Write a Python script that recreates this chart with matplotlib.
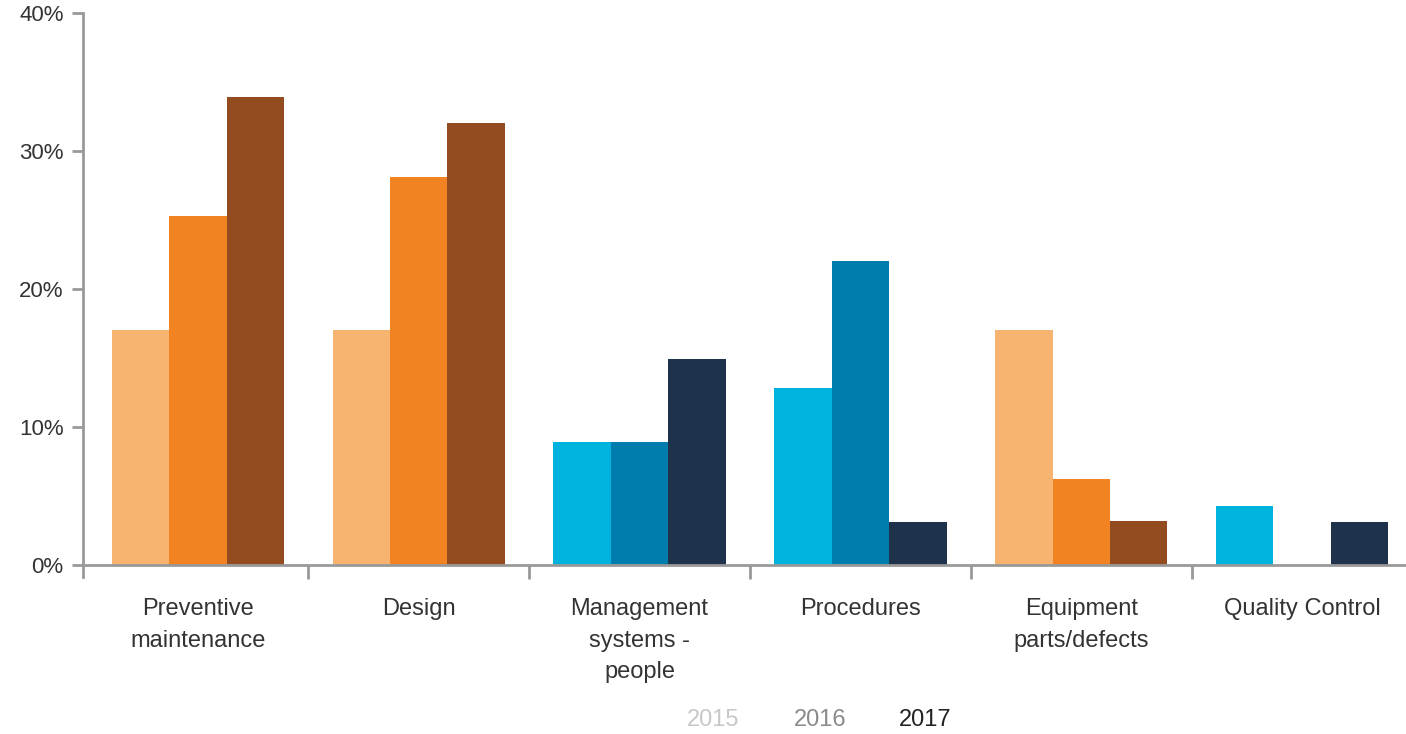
import numpy as np
import matplotlib.pyplot as plt

plt.rcParams['font.family'] = ['Liberation Sans', 'DejaVu Sans']

categories = ["Preventive\nmaintenance", "Design", "Management\nsystems -\npeople",
              "Procedures", "Equipment\nparts/defects", "Quality Control"]
years = ["2015", "2016", "2017"]
vals_2015 = [17.0, 17.0, 8.9, 12.8, 17.0, 4.3]
vals_2016 = [25.3, 28.1, 8.9, 22.0, 6.2, 0.0]
vals_2017 = [33.9, 32.0, 14.9, 3.1, 3.2, 3.1]

# two palettes: orange groups and blue groups
orange = ["#F7B370", "#F28322", "#924C1F"]
blue = ["#00B3DF", "#007DAD", "#1E324B"]
group_palette = [orange, orange, blue, blue, orange, blue]

fig = plt.figure(figsize=(14.06, 7.34), dpi=100)
ax = fig.add_axes([83 / 1406, 169 / 734, 1 - 83 / 1406, 552 / 734])

x = np.arange(len(categories))
w = 0.26
series = [vals_2015, vals_2016, vals_2017]
for i, vals in enumerate(series):
    cols = [pal[i] for pal in group_palette]
    ax.bar(x + (i - 1) * w, vals, width=w, color=cols, linewidth=0, zorder=2)

ax.set_xlim(-0.52, 5.47)
ax.set_ylim(0, 40)
ax.set_yticks([0, 10, 20, 30, 40])
ax.set_yticklabels([f"{v}%" for v in [0, 10, 20, 30, 40]])

# separators between groups as major ticks, names as minor ticks
ax.set_xticks(x[:-1] + 0.5)
ax.set_xticklabels([])
ax.set_xticks(x, minor=True)
ax.set_xticklabels(categories, minor=True)
for lab in ax.get_xticklabels(minor=True):
    lab.set_linespacing(1.55)
ax.tick_params(axis='x', which='major', length=10, width=2, color='#999999', direction='out')
ax.tick_params(axis='x', which='minor', length=0, pad=24, labelsize=17, labelcolor='#333333')
ax.tick_params(axis='y', length=8, width=2, color='#999999', direction='out',
               labelsize=16, labelcolor='#333333', pad=6)

for side in ['top', 'right']:
    ax.spines[side].set_visible(False)
for side in ['left', 'bottom']:
    ax.spines[side].set_color('#999999')
    ax.spines[side].set_linewidth(2)
ax.spines['left'].set_bounds(-0.9, 40)

legend_cols = ["#C8C8C8", "#8A8A8A", "#222222"]
for label, xc, c in zip(years, [713, 820, 925], legend_cols):
    fig.text(xc / 1406, 1 - 720 / 734, label, color=c, fontsize=17,
             ha='center', va='center')

fig.savefig("out.png", dpi=100)
